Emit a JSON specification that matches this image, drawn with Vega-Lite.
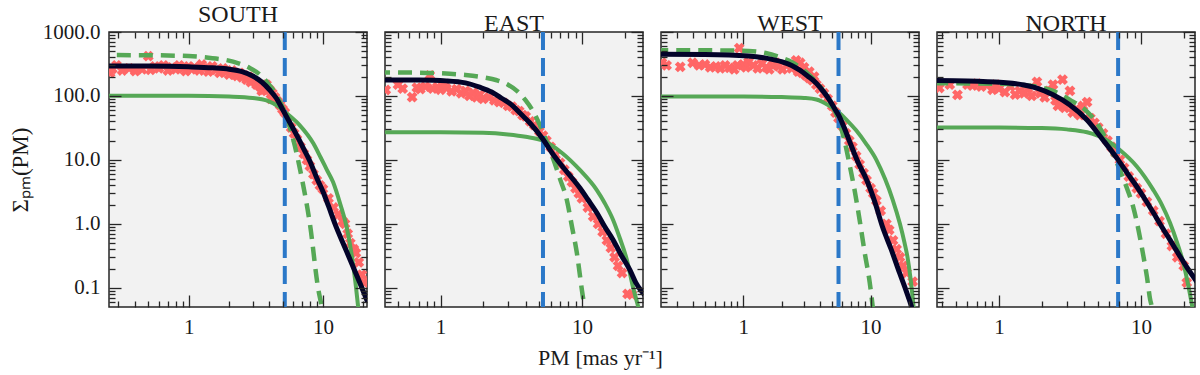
{
  "$schema": "https://vega.github.io/schema/vega-lite/v6.json",
  "padding": {"left": 8, "top": 2, "right": 2, "bottom": 2},
  "spacing": 18,
  "bounds": "flush",
  "datasets": {
    "pts": [
      {"p":"S","x":0.26,"v":230},{"p":"S","x":0.27,"v":265},{"p":"S","x":0.29,"v":300},{"p":"S","x":0.32,"v":250},{"p":"S","x":0.36,"v":270},{"p":"S","x":0.40,"v":245},{"p":"S","x":0.45,"v":260},{"p":"S","x":0.50,"v":420},{"p":"S","x":0.52,"v":255},{"p":"S","x":0.56,"v":290},{"p":"S","x":0.60,"v":270},{"p":"S","x":0.65,"v":300},{"p":"S","x":0.70,"v":250},{"p":"S","x":0.75,"v":280},{"p":"S","x":0.80,"v":260},{"p":"S","x":0.85,"v":300},{"p":"S","x":0.90,"v":270},{"p":"S","x":0.95,"v":245},{"p":"S","x":1.0,"v":290},{"p":"S","x":1.05,"v":260},{"p":"S","x":1.1,"v":280},{"p":"S","x":1.2,"v":250},{"p":"S","x":1.25,"v":310},{"p":"S","x":1.3,"v":270},{"p":"S","x":1.4,"v":240},{"p":"S","x":1.5,"v":290},{"p":"S","x":1.6,"v":255},{"p":"S","x":1.7,"v":230},{"p":"S","x":1.8,"v":270},{"p":"S","x":1.9,"v":240},{"p":"S","x":2.0,"v":215},{"p":"S","x":2.1,"v":250},{"p":"S","x":2.2,"v":215},{"p":"S","x":2.3,"v":205},{"p":"S","x":2.4,"v":230},{"p":"S","x":2.5,"v":195},{"p":"S","x":2.6,"v":210},{"p":"S","x":2.7,"v":180},{"p":"S","x":2.8,"v":200},{"p":"S","x":2.9,"v":165},{"p":"S","x":3.0,"v":175},{"p":"S","x":3.2,"v":150},{"p":"S","x":3.4,"v":140},{"p":"S","x":3.5,"v":120},{"p":"S","x":3.6,"v":125},{"p":"S","x":3.8,"v":150},{"p":"S","x":4.0,"v":125},{"p":"S","x":4.1,"v":90},{"p":"S","x":4.2,"v":110},{"p":"S","x":4.4,"v":95},{"p":"S","x":4.6,"v":82},{"p":"S","x":4.8,"v":72},{"p":"S","x":5.0,"v":62},{"p":"S","x":5.2,"v":55},{"p":"S","x":5.5,"v":40},{"p":"S","x":5.8,"v":32},{"p":"S","x":6.1,"v":26},{"p":"S","x":6.4,"v":21},{"p":"S","x":6.8,"v":16},{"p":"S","x":7.2,"v":12.5},{"p":"S","x":7.6,"v":10},{"p":"S","x":8.0,"v":8},{"p":"S","x":8.5,"v":6},{"p":"S","x":9.0,"v":4.8},{"p":"S","x":9.5,"v":4.0},{"p":"S","x":10,"v":3.5},{"p":"S","x":11,"v":2.5},{"p":"S","x":12,"v":1.8},{"p":"S","x":13,"v":1.4},{"p":"S","x":14,"v":1.1},{"p":"S","x":14.6,"v":1.0},{"p":"S","x":15.3,"v":0.7},{"p":"S","x":16,"v":0.5},{"p":"S","x":17,"v":0.4},{"p":"S","x":17.6,"v":0.35},{"p":"S","x":18.5,"v":0.25},{"p":"S","x":19.5,"v":0.16},{"p":"S","x":20.2,"v":0.12},
      {"p":"E","x":0.41,"v":124},{"p":"E","x":0.5,"v":150},{"p":"E","x":0.54,"v":130},{"p":"E","x":0.63,"v":96},{"p":"E","x":0.68,"v":135},{"p":"E","x":0.72,"v":128},{"p":"E","x":0.78,"v":140},{"p":"E","x":0.84,"v":210},{"p":"E","x":0.88,"v":130},{"p":"E","x":0.95,"v":138},{"p":"E","x":1.0,"v":125},{"p":"E","x":1.05,"v":145},{"p":"E","x":1.1,"v":132},{"p":"E","x":1.2,"v":118},{"p":"E","x":1.3,"v":128},{"p":"E","x":1.4,"v":110},{"p":"E","x":1.5,"v":120},{"p":"E","x":1.6,"v":100},{"p":"E","x":1.7,"v":112},{"p":"E","x":1.8,"v":95},{"p":"E","x":1.9,"v":105},{"p":"E","x":2.0,"v":90},{"p":"E","x":2.2,"v":95},{"p":"E","x":2.4,"v":85},{"p":"E","x":2.6,"v":80},{"p":"E","x":2.8,"v":78},{"p":"E","x":3.0,"v":70},{"p":"E","x":3.2,"v":68},{"p":"E","x":3.4,"v":60},{"p":"E","x":3.6,"v":58},{"p":"E","x":3.8,"v":50},{"p":"E","x":4.0,"v":48},{"p":"E","x":4.3,"v":40},{"p":"E","x":4.6,"v":35},{"p":"E","x":5.0,"v":28},{"p":"E","x":5.3,"v":24},{"p":"E","x":5.6,"v":20},{"p":"E","x":6.0,"v":16},{"p":"E","x":6.5,"v":12},{"p":"E","x":7.0,"v":9},{"p":"E","x":7.5,"v":7},{"p":"E","x":8.0,"v":5.5},{"p":"E","x":8.5,"v":4.5},{"p":"E","x":9.0,"v":3.6},{"p":"E","x":9.5,"v":3.0},{"p":"E","x":10,"v":2.5},{"p":"E","x":11,"v":1.8},{"p":"E","x":12,"v":1.3},{"p":"E","x":13,"v":1.0},{"p":"E","x":14,"v":0.75},{"p":"E","x":15,"v":0.55},{"p":"E","x":16,"v":0.42},{"p":"E","x":17,"v":0.3},{"p":"E","x":18,"v":0.22},{"p":"E","x":19.2,"v":0.17},{"p":"E","x":21,"v":0.08},{"p":"E","x":22.6,"v":0.078},
      {"p":"W","x":0.23,"v":330},{"p":"W","x":0.25,"v":300},{"p":"W","x":0.32,"v":285},{"p":"W","x":0.40,"v":330},{"p":"W","x":0.45,"v":300},{"p":"W","x":0.5,"v":310},{"p":"W","x":0.55,"v":280},{"p":"W","x":0.61,"v":290},{"p":"W","x":0.66,"v":270},{"p":"W","x":0.72,"v":300},{"p":"W","x":0.78,"v":275},{"p":"W","x":0.85,"v":260},{"p":"W","x":0.9,"v":300},{"p":"W","x":0.93,"v":560},{"p":"W","x":1.0,"v":310},{"p":"W","x":1.05,"v":280},{"p":"W","x":1.1,"v":340},{"p":"W","x":1.2,"v":300},{"p":"W","x":1.3,"v":270},{"p":"W","x":1.4,"v":320},{"p":"W","x":1.52,"v":280},{"p":"W","x":1.6,"v":260},{"p":"W","x":1.7,"v":300},{"p":"W","x":1.8,"v":330},{"p":"W","x":1.9,"v":290},{"p":"W","x":2.03,"v":260},{"p":"W","x":2.2,"v":300},{"p":"W","x":2.4,"v":270},{"p":"W","x":2.6,"v":360},{"p":"W","x":2.7,"v":240},{"p":"W","x":2.8,"v":330},{"p":"W","x":2.9,"v":230},{"p":"W","x":3.0,"v":280},{"p":"W","x":3.1,"v":210},{"p":"W","x":3.3,"v":240},{"p":"W","x":3.3,"v":190},{"p":"W","x":3.5,"v":175},{"p":"W","x":3.6,"v":200},{"p":"W","x":3.75,"v":150},{"p":"W","x":4.0,"v":130},{"p":"W","x":4.3,"v":110},{"p":"W","x":4.6,"v":90},{"p":"W","x":5.0,"v":70},{"p":"W","x":5.3,"v":55},{"p":"W","x":5.6,"v":45},{"p":"W","x":6.0,"v":34},{"p":"W","x":6.4,"v":26},{"p":"W","x":6.8,"v":20},{"p":"W","x":7.2,"v":16},{"p":"W","x":7.7,"v":11.5},{"p":"W","x":8.2,"v":8.5},{"p":"W","x":8.8,"v":6.2},{"p":"W","x":9.3,"v":4.8},{"p":"W","x":10,"v":3.6},{"p":"W","x":10.5,"v":3.0},{"p":"W","x":11.1,"v":2.3},{"p":"W","x":12,"v":1.6},{"p":"W","x":13.3,"v":1.0},{"p":"W","x":14,"v":0.8},{"p":"W","x":15,"v":0.55},{"p":"W","x":16,"v":0.4},{"p":"W","x":17,"v":0.3},{"p":"W","x":18,"v":0.22},{"p":"W","x":19.2,"v":0.17},{"p":"W","x":21.4,"v":0.125},
      {"p":"N","x":0.38,"v":133},{"p":"N","x":0.45,"v":150},{"p":"N","x":0.51,"v":104},{"p":"N","x":0.6,"v":150},{"p":"N","x":0.65,"v":145},{"p":"N","x":0.7,"v":155},{"p":"N","x":0.75,"v":140},{"p":"N","x":0.82,"v":148},{"p":"N","x":0.9,"v":125},{"p":"N","x":0.95,"v":150},{"p":"N","x":1.0,"v":130},{"p":"N","x":1.1,"v":115},{"p":"N","x":1.2,"v":140},{"p":"N","x":1.3,"v":105},{"p":"N","x":1.4,"v":120},{"p":"N","x":1.5,"v":110},{"p":"N","x":1.6,"v":130},{"p":"N","x":1.7,"v":100},{"p":"N","x":1.85,"v":166},{"p":"N","x":1.95,"v":110},{"p":"N","x":2.1,"v":95},{"p":"N","x":2.25,"v":120},{"p":"N","x":2.4,"v":150},{"p":"N","x":2.5,"v":85},{"p":"N","x":2.6,"v":70},{"p":"N","x":2.8,"v":180},{"p":"N","x":2.9,"v":65},{"p":"N","x":3.0,"v":75},{"p":"N","x":3.16,"v":120},{"p":"N","x":3.3,"v":55},{"p":"N","x":3.5,"v":62},{"p":"N","x":3.7,"v":50},{"p":"N","x":3.9,"v":70},{"p":"N","x":4.17,"v":80},{"p":"N","x":4.4,"v":45},{"p":"N","x":4.7,"v":38},{"p":"N","x":5.0,"v":32},{"p":"N","x":5.4,"v":26},{"p":"N","x":5.8,"v":20},{"p":"N","x":6.2,"v":16},{"p":"N","x":6.6,"v":13},{"p":"N","x":7.1,"v":10},{"p":"N","x":7.6,"v":7.5},{"p":"N","x":8.2,"v":5.5},{"p":"N","x":8.8,"v":4.5},{"p":"N","x":9.35,"v":3.6},{"p":"N","x":10,"v":3},{"p":"N","x":11,"v":2.2},{"p":"N","x":12.2,"v":1.6},{"p":"N","x":13.5,"v":1.1},{"p":"N","x":15,"v":0.7},{"p":"N","x":16.5,"v":0.45},{"p":"N","x":18,"v":0.3},{"p":"N","x":20,"v":0.22},{"p":"N","x":21,"v":0.12}
    ],
    "curves": [
      {"p":"S","s":"k","x":0.2,"v":295},{"p":"S","s":"k","x":0.5,"v":293},{"p":"S","s":"k","x":1,"v":285},{"p":"S","s":"k","x":1.5,"v":275},{"p":"S","s":"k","x":2,"v":262},{"p":"S","s":"k","x":2.5,"v":240},{"p":"S","s":"k","x":3,"v":205},{"p":"S","s":"k","x":3.5,"v":165},{"p":"S","s":"k","x":4,"v":125},{"p":"S","s":"k","x":4.5,"v":92},{"p":"S","s":"k","x":5,"v":62},{"p":"S","s":"k","x":5.5,"v":43},{"p":"S","s":"k","x":6,"v":31},{"p":"S","s":"k","x":6.7,"v":20},{"p":"S","s":"k","x":7.3,"v":14},{"p":"S","s":"k","x":8,"v":9.5},{"p":"S","s":"k","x":9,"v":5.2},{"p":"S","s":"k","x":10,"v":3.2},{"p":"S","s":"k","x":11,"v":1.9},{"p":"S","s":"k","x":12.3,"v":1.0},{"p":"S","s":"k","x":14,"v":0.52},{"p":"S","s":"k","x":16,"v":0.27},{"p":"S","s":"k","x":18,"v":0.15},{"p":"S","s":"k","x":19.5,"v":0.1},{"p":"S","s":"k","x":21.5,"v":0.06},
      {"p":"S","s":"d","x":0.2,"v":436},{"p":"S","s":"d","x":0.5,"v":433},{"p":"S","s":"d","x":1,"v":420},{"p":"S","s":"d","x":1.5,"v":390},{"p":"S","s":"d","x":2.14,"v":344},{"p":"S","s":"d","x":2.85,"v":274},{"p":"S","s":"d","x":3.4,"v":215},{"p":"S","s":"d","x":3.8,"v":168},{"p":"S","s":"d","x":4.5,"v":104},{"p":"S","s":"d","x":5.4,"v":45},{"p":"S","s":"d","x":6.2,"v":16},{"p":"S","s":"d","x":7.0,"v":4.9},{"p":"S","s":"d","x":8.0,"v":1.0},{"p":"S","s":"d","x":9.2,"v":0.1},{"p":"S","s":"d","x":9.8,"v":0.05},{"p":"S","s":"d","x":10.2,"v":0.03},
      {"p":"S","s":"g","x":0.2,"v":101},{"p":"S","s":"g","x":1,"v":101},{"p":"S","s":"g","x":2,"v":98},{"p":"S","s":"g","x":3,"v":93},{"p":"S","s":"g","x":3.8,"v":85},{"p":"S","s":"g","x":4.78,"v":66},{"p":"S","s":"g","x":5.4,"v":53},{"p":"S","s":"g","x":6.7,"v":35},{"p":"S","s":"g","x":8.5,"v":18},{"p":"S","s":"g","x":9.6,"v":11},{"p":"S","s":"g","x":10.7,"v":7},{"p":"S","s":"g","x":11.9,"v":4.5},{"p":"S","s":"g","x":13.5,"v":2.0},{"p":"S","s":"g","x":15.1,"v":0.85},{"p":"S","s":"g","x":16.3,"v":0.35},{"p":"S","s":"g","x":17.4,"v":0.13},{"p":"S","s":"g","x":18.3,"v":0.05},{"p":"S","s":"g","x":18.8,"v":0.03},
      {"p":"E","s":"k","x":0.35,"v":178},{"p":"E","s":"k","x":0.7,"v":177},{"p":"E","s":"k","x":1.1,"v":172},{"p":"E","s":"k","x":1.5,"v":160},{"p":"E","s":"k","x":1.89,"v":137},{"p":"E","s":"k","x":2.3,"v":115},{"p":"E","s":"k","x":2.7,"v":92},{"p":"E","s":"k","x":3.24,"v":70},{"p":"E","s":"k","x":3.7,"v":52},{"p":"E","s":"k","x":4.27,"v":38},{"p":"E","s":"k","x":5.3,"v":21},{"p":"E","s":"k","x":6.2,"v":12.5},{"p":"E","s":"k","x":7.3,"v":7.8},{"p":"E","s":"k","x":8.5,"v":5.2},{"p":"E","s":"k","x":9.7,"v":3.6},{"p":"E","s":"k","x":11,"v":2.4},{"p":"E","s":"k","x":12.7,"v":1.5},{"p":"E","s":"k","x":14.5,"v":0.9},{"p":"E","s":"k","x":16.6,"v":0.56},{"p":"E","s":"k","x":19,"v":0.32},{"p":"E","s":"k","x":21.8,"v":0.19},{"p":"E","s":"k","x":24,"v":0.12},{"p":"E","s":"k","x":28,"v":0.075},
      {"p":"E","s":"d","x":0.35,"v":233},{"p":"E","s":"d","x":0.7,"v":231},{"p":"E","s":"d","x":1,"v":226},{"p":"E","s":"d","x":1.5,"v":213},{"p":"E","s":"d","x":2,"v":196},{"p":"E","s":"d","x":2.5,"v":176},{"p":"E","s":"d","x":3,"v":150},{"p":"E","s":"d","x":3.5,"v":118},{"p":"E","s":"d","x":4,"v":85},{"p":"E","s":"d","x":4.5,"v":58},{"p":"E","s":"d","x":5.3,"v":27},{"p":"E","s":"d","x":6.2,"v":11},{"p":"E","s":"d","x":7,"v":5},{"p":"E","s":"d","x":7.8,"v":2.4},{"p":"E","s":"d","x":8.5,"v":0.9},{"p":"E","s":"d","x":9.2,"v":0.35},{"p":"E","s":"d","x":10,"v":0.09},{"p":"E","s":"d","x":10.4,"v":0.05},{"p":"E","s":"d","x":10.7,"v":0.03},
      {"p":"E","s":"g","x":0.35,"v":27},{"p":"E","s":"g","x":1,"v":27},{"p":"E","s":"g","x":2,"v":26.5},{"p":"E","s":"g","x":3,"v":25},{"p":"E","s":"g","x":4,"v":23},{"p":"E","s":"g","x":5.3,"v":20},{"p":"E","s":"g","x":7.3,"v":12.6},{"p":"E","s":"g","x":9.7,"v":6.9},{"p":"E","s":"g","x":12.7,"v":3.4},{"p":"E","s":"g","x":14.5,"v":2.1},{"p":"E","s":"g","x":16.6,"v":1.15},{"p":"E","s":"g","x":18.5,"v":0.6},{"p":"E","s":"g","x":20.8,"v":0.27},{"p":"E","s":"g","x":23,"v":0.1},{"p":"E","s":"g","x":25,"v":0.05},{"p":"E","s":"g","x":26,"v":0.035},
      {"p":"W","s":"k","x":0.2,"v":450},{"p":"W","s":"k","x":0.5,"v":445},{"p":"W","s":"k","x":1.1,"v":421},{"p":"W","s":"k","x":1.5,"v":390},{"p":"W","s":"k","x":2.03,"v":340},{"p":"W","s":"k","x":2.4,"v":300},{"p":"W","s":"k","x":2.76,"v":255},{"p":"W","s":"k","x":3.2,"v":205},{"p":"W","s":"k","x":3.75,"v":158},{"p":"W","s":"k","x":4.25,"v":118},{"p":"W","s":"k","x":4.75,"v":87},{"p":"W","s":"k","x":5.2,"v":64},{"p":"W","s":"k","x":5.7,"v":47},{"p":"W","s":"k","x":6.2,"v":32},{"p":"W","s":"k","x":6.8,"v":20},{"p":"W","s":"k","x":8,"v":9},{"p":"W","s":"k","x":9.3,"v":4.9},{"p":"W","s":"k","x":10.8,"v":2.2},{"p":"W","s":"k","x":12.4,"v":0.9},{"p":"W","s":"k","x":14.5,"v":0.4},{"p":"W","s":"k","x":16.9,"v":0.17},{"p":"W","s":"k","x":19,"v":0.09},{"p":"W","s":"k","x":21,"v":0.05},{"p":"W","s":"k","x":22,"v":0.035},
      {"p":"W","s":"d","x":0.2,"v":520},{"p":"W","s":"d","x":0.5,"v":518},{"p":"W","s":"d","x":1.1,"v":505},{"p":"W","s":"d","x":1.5,"v":470},{"p":"W","s":"d","x":2.03,"v":392},{"p":"W","s":"d","x":2.4,"v":340},{"p":"W","s":"d","x":2.76,"v":285},{"p":"W","s":"d","x":3.2,"v":225},{"p":"W","s":"d","x":3.75,"v":165},{"p":"W","s":"d","x":4.25,"v":120},{"p":"W","s":"d","x":4.75,"v":87},{"p":"W","s":"d","x":5.2,"v":60},{"p":"W","s":"d","x":5.7,"v":38},{"p":"W","s":"d","x":6.2,"v":21},{"p":"W","s":"d","x":6.8,"v":8.9},{"p":"W","s":"d","x":7.5,"v":3.3},{"p":"W","s":"d","x":8.2,"v":1.15},{"p":"W","s":"d","x":9.0,"v":0.35},{"p":"W","s":"d","x":9.85,"v":0.12},{"p":"W","s":"d","x":10.4,"v":0.05},{"p":"W","s":"d","x":10.7,"v":0.03},
      {"p":"W","s":"g","x":0.2,"v":98},{"p":"W","s":"g","x":1,"v":98},{"p":"W","s":"g","x":2,"v":96},{"p":"W","s":"g","x":3,"v":93},{"p":"W","s":"g","x":3.75,"v":88},{"p":"W","s":"g","x":4.75,"v":70},{"p":"W","s":"g","x":5.7,"v":54},{"p":"W","s":"g","x":6.5,"v":42},{"p":"W","s":"g","x":7.7,"v":29},{"p":"W","s":"g","x":9.2,"v":18},{"p":"W","s":"g","x":11.1,"v":10},{"p":"W","s":"g","x":13,"v":5},{"p":"W","s":"g","x":14.9,"v":2.4},{"p":"W","s":"g","x":17,"v":1.0},{"p":"W","s":"g","x":18.5,"v":0.5},{"p":"W","s":"g","x":19.5,"v":0.3},{"p":"W","s":"g","x":20.5,"v":0.15},{"p":"W","s":"g","x":21.4,"v":0.07},{"p":"W","s":"g","x":22,"v":0.04},
      {"p":"N","s":"k","x":0.35,"v":174},{"p":"N","s":"k","x":0.6,"v":172},{"p":"N","s":"k","x":1.07,"v":162},{"p":"N","s":"k","x":1.5,"v":148},{"p":"N","s":"k","x":1.85,"v":132},{"p":"N","s":"k","x":2.4,"v":104},{"p":"N","s":"k","x":3.16,"v":72},{"p":"N","s":"k","x":4.17,"v":42},{"p":"N","s":"k","x":5.4,"v":20.5},{"p":"N","s":"k","x":6.9,"v":10},{"p":"N","s":"k","x":8,"v":6.2},{"p":"N","s":"k","x":9.35,"v":3.8},{"p":"N","s":"k","x":10.7,"v":2.4},{"p":"N","s":"k","x":12.2,"v":1.5},{"p":"N","s":"k","x":14,"v":0.9},{"p":"N","s":"k","x":16,"v":0.56},{"p":"N","s":"k","x":18.5,"v":0.33},{"p":"N","s":"k","x":21,"v":0.21},{"p":"N","s":"k","x":25,"v":0.12},
      {"p":"N","s":"d","x":0.35,"v":158},{"p":"N","s":"d","x":0.6,"v":157},{"p":"N","s":"d","x":1,"v":155},{"p":"N","s":"d","x":1.5,"v":148},{"p":"N","s":"d","x":1.85,"v":140},{"p":"N","s":"d","x":2.4,"v":120},{"p":"N","s":"d","x":3.16,"v":87},{"p":"N","s":"d","x":4.17,"v":57},{"p":"N","s":"d","x":4.8,"v":40},{"p":"N","s":"d","x":5.4,"v":26},{"p":"N","s":"d","x":6.2,"v":14},{"p":"N","s":"d","x":7.1,"v":6.9},{"p":"N","s":"d","x":8,"v":3.5},{"p":"N","s":"d","x":8.8,"v":1.86},{"p":"N","s":"d","x":9.6,"v":0.8},{"p":"N","s":"d","x":10.3,"v":0.35},{"p":"N","s":"d","x":11,"v":0.15},{"p":"N","s":"d","x":11.6,"v":0.065},{"p":"N","s":"d","x":11.9,"v":0.05},{"p":"N","s":"d","x":12.1,"v":0.035},
      {"p":"N","s":"g","x":0.35,"v":32},{"p":"N","s":"g","x":1,"v":32},{"p":"N","s":"g","x":2,"v":31.5},{"p":"N","s":"g","x":3,"v":30},{"p":"N","s":"g","x":4.17,"v":27},{"p":"N","s":"g","x":5.4,"v":22},{"p":"N","s":"g","x":7.1,"v":14.3},{"p":"N","s":"g","x":9.35,"v":7.9},{"p":"N","s":"g","x":12.2,"v":3.4},{"p":"N","s":"g","x":14,"v":2},{"p":"N","s":"g","x":16,"v":1.04},{"p":"N","s":"g","x":18,"v":0.5},{"p":"N","s":"g","x":19.8,"v":0.25},{"p":"N","s":"g","x":21.5,"v":0.11},{"p":"N","s":"g","x":23,"v":0.05},{"p":"N","s":"g","x":24,"v":0.03}
    ],
    "vl": [{"p":"S","x":5.2},{"p":"E","x":5.3},{"p":"W","x":5.6},{"p":"N","x":6.9}]
  },
  "hconcat": [
    {
      "width": 258, "height": 275, "title": {"text": "SOUTH"},
      "resolve": {"axis": {"x": "independent", "y": "independent"}},
      "layer": [
        {"data": {"name": "pts"}, "transform": [{"filter": "datum.p == 'S'"}],
         "mark": {"type": "point", "shape": "cross", "angle": 45, "filled": true, "size": 120, "color": "#ff6666", "opacity": 1, "clip": true},
         "encoding": {
           "x": {"field": "x", "type": "quantitative", "scale": {"type": "log", "domain": [0.255, 21.3], "nice": false}, "axis": {"orient": "bottom", "values": [1, 10], "format": ".0f", "ticks": true, "tickColor": "#262626", "tickOpacity": 1, "tickWidth": 1.3, "tickSize": 12, "offset": -12, "labelPadding": 9, "labelFont": "Liberation Serif", "labelFontSize": 21, "labelColor": "#1a1a1a", "labelOverlap": false, "labelFlush": false, "domain": false, "grid": false, "zindex": 1, "title": null}},
           "y": {"field": "v", "type": "quantitative", "scale": {"type": "log", "domain": [0.05, 1000], "nice": false}, "axis": {"orient": "left", "values": [0.1, 1, 10, 100, 1000], "format": ".1f", "ticks": true, "tickColor": "#262626", "tickOpacity": 1, "tickWidth": 1.3, "tickSize": 12, "offset": -12, "labelPadding": 9, "labelFont": "Liberation Serif", "labelFontSize": 21, "labelColor": "#1a1a1a", "labelOverlap": false, "labelFlush": false, "domain": false, "grid": false, "zindex": 1, "title": "Σₚₘ(PM)", "titleFont": "Liberation Serif", "titleFontSize": 23, "titleFontWeight": "normal", "titleColor": "#1a1a1a", "titlePadding": 10}}
         }},
        {"data": {"name": "curves"}, "transform": [{"filter": "datum.p == 'S' && datum.s == 'd'"}],
         "mark": {"type": "line", "color": "#56a856", "strokeWidth": 4.5, "strokeDash": [14, 8], "interpolate": "monotone", "clip": true},
         "encoding": {
           "x": {"field": "x", "type": "quantitative", "scale": {"type": "log", "domain": [0.255, 21.3], "nice": false}, "axis": {"orient": "bottom", "values": [0.3,0.4,0.5,0.6,0.7,0.8,0.9,2,3,4,5,6,7,8,9,20], "ticks": true, "tickColor": "#262626", "tickOpacity": 1, "tickWidth": 1.3, "tickSize": 6, "offset": -6, "labels": false, "domain": false, "grid": false, "zindex": 1, "title": null}},
           "y": {"field": "v", "type": "quantitative", "scale": {"type": "log", "domain": [0.05, 1000], "nice": false}, "axis": {"orient": "left", "values": [0.06,0.07,0.08,0.09,0.2,0.3,0.4,0.5,0.6,0.7,0.8,0.9,2,3,4,5,6,7,8,9,20,30,40,50,60,70,80,90,200,300,400,500,600,700,800,900], "ticks": true, "tickColor": "#262626", "tickOpacity": 1, "tickWidth": 1.3, "tickSize": 6, "offset": -6, "labels": false, "domain": false, "grid": false, "zindex": 1, "title": null}}
         }},
        {"data": {"name": "curves"}, "transform": [{"filter": "datum.p == 'S' && datum.s == 'g'"}],
         "mark": {"type": "line", "color": "#56a856", "strokeWidth": 4, "interpolate": "monotone", "clip": true},
         "encoding": {
           "x": {"field": "x", "type": "quantitative", "scale": {"type": "log", "domain": [0.255, 21.3], "nice": false}, "axis": {"orient": "top", "values": [1, 10], "ticks": true, "tickColor": "#262626", "tickOpacity": 1, "tickWidth": 1.3, "tickSize": 12, "offset": -12, "labels": false, "domain": false, "grid": false, "zindex": 1, "title": null}},
           "y": {"field": "v", "type": "quantitative", "scale": {"type": "log", "domain": [0.05, 1000], "nice": false}, "axis": {"orient": "right", "values": [0.1, 1, 10, 100, 1000], "ticks": true, "tickColor": "#262626", "tickOpacity": 1, "tickWidth": 1.3, "tickSize": 12, "offset": -12, "labels": false, "domain": false, "grid": false, "zindex": 1, "title": null}}
         }},
        {"data": {"name": "vl"}, "transform": [{"filter": "datum.p == 'S'"}],
         "mark": {"type": "rule", "color": "#2b78c8", "strokeWidth": 4, "strokeDash": [18, 8]},
         "encoding": {
           "x": {"field": "x", "type": "quantitative", "scale": {"type": "log", "domain": [0.255, 21.3], "nice": false}, "axis": {"orient": "top", "values": [0.3,0.4,0.5,0.6,0.7,0.8,0.9,2,3,4,5,6,7,8,9,20], "ticks": true, "tickColor": "#262626", "tickOpacity": 1, "tickWidth": 1.3, "tickSize": 6, "offset": -6, "labels": false, "domain": false, "grid": false, "zindex": 1, "title": null}}
         }},
        {"data": {"name": "curves"}, "transform": [{"filter": "datum.p == 'S' && datum.s == 'k'"}],
         "mark": {"type": "line", "color": "#03032a", "strokeWidth": 5, "interpolate": "monotone", "clip": true},
         "encoding": {
           "x": {"field": "x", "type": "quantitative", "scale": {"type": "log", "domain": [0.255, 21.3], "nice": false}, "axis": null},
           "y": {"field": "v", "type": "quantitative", "scale": {"type": "log", "domain": [0.05, 1000], "nice": false}, "axis": {"orient": "right", "values": [0.06,0.07,0.08,0.09,0.2,0.3,0.4,0.5,0.6,0.7,0.8,0.9,2,3,4,5,6,7,8,9,20,30,40,50,60,70,80,90,200,300,400,500,600,700,800,900], "ticks": true, "tickColor": "#262626", "tickOpacity": 1, "tickWidth": 1.3, "tickSize": 6, "offset": -6, "labels": false, "domain": false, "grid": false, "zindex": 1, "title": null}}
         }}
      ]
    },
    {
      "width": 258, "height": 275, "title": {"text": "EAST"},
      "resolve": {"axis": {"x": "independent", "y": "independent"}},
      "layer": [
        {"data": {"name": "pts"}, "transform": [{"filter": "datum.p == 'E'"}],
         "mark": {"type": "point", "shape": "cross", "angle": 45, "filled": true, "size": 120, "color": "#ff6666", "opacity": 1, "clip": true},
         "encoding": {
           "x": {"field": "x", "type": "quantitative", "scale": {"type": "log", "domain": [0.405, 27], "nice": false}, "axis": {"orient": "bottom", "values": [1, 10], "format": ".0f", "ticks": true, "tickColor": "#262626", "tickOpacity": 1, "tickWidth": 1.3, "tickSize": 12, "offset": -12, "labelPadding": 9, "labelFont": "Liberation Serif", "labelFontSize": 21, "labelColor": "#1a1a1a", "labelOverlap": false, "labelFlush": false, "domain": false, "grid": false, "zindex": 1, "title": "PM [mas yr⁻¹]", "titleX": 215, "titleAlign": "center", "titlePadding": 10, "titleFont": "Liberation Serif", "titleFontSize": 22, "titleFontWeight": "normal", "titleColor": "#1a1a1a"}},
           "y": {"field": "v", "type": "quantitative", "scale": {"type": "log", "domain": [0.05, 1000], "nice": false}, "axis": {"orient": "left", "values": [0.1, 1, 10, 100, 1000], "ticks": true, "tickColor": "#262626", "tickOpacity": 1, "tickWidth": 1.3, "tickSize": 12, "offset": -12, "labels": false, "domain": false, "grid": false, "zindex": 1, "title": null}}
         }},
        {"data": {"name": "curves"}, "transform": [{"filter": "datum.p == 'E' && datum.s == 'd'"}],
         "mark": {"type": "line", "color": "#56a856", "strokeWidth": 4.5, "strokeDash": [14, 8], "interpolate": "monotone", "clip": true},
         "encoding": {
           "x": {"field": "x", "type": "quantitative", "scale": {"type": "log", "domain": [0.405, 27], "nice": false}, "axis": {"orient": "bottom", "values": [0.5,0.6,0.7,0.8,0.9,2,3,4,5,6,7,8,9,20], "ticks": true, "tickColor": "#262626", "tickOpacity": 1, "tickWidth": 1.3, "tickSize": 6, "offset": -6, "labels": false, "domain": false, "grid": false, "zindex": 1, "title": null}},
           "y": {"field": "v", "type": "quantitative", "scale": {"type": "log", "domain": [0.05, 1000], "nice": false}, "axis": {"orient": "left", "values": [0.06,0.07,0.08,0.09,0.2,0.3,0.4,0.5,0.6,0.7,0.8,0.9,2,3,4,5,6,7,8,9,20,30,40,50,60,70,80,90,200,300,400,500,600,700,800,900], "ticks": true, "tickColor": "#262626", "tickOpacity": 1, "tickWidth": 1.3, "tickSize": 6, "offset": -6, "labels": false, "domain": false, "grid": false, "zindex": 1, "title": null}}
         }},
        {"data": {"name": "curves"}, "transform": [{"filter": "datum.p == 'E' && datum.s == 'g'"}],
         "mark": {"type": "line", "color": "#56a856", "strokeWidth": 4, "interpolate": "monotone", "clip": true},
         "encoding": {
           "x": {"field": "x", "type": "quantitative", "scale": {"type": "log", "domain": [0.405, 27], "nice": false}, "axis": {"orient": "top", "values": [1, 10], "ticks": true, "tickColor": "#262626", "tickOpacity": 1, "tickWidth": 1.3, "tickSize": 12, "offset": -12, "labels": false, "domain": false, "grid": false, "zindex": 1, "title": null}},
           "y": {"field": "v", "type": "quantitative", "scale": {"type": "log", "domain": [0.05, 1000], "nice": false}, "axis": {"orient": "right", "values": [0.1, 1, 10, 100, 1000], "ticks": true, "tickColor": "#262626", "tickOpacity": 1, "tickWidth": 1.3, "tickSize": 12, "offset": -12, "labels": false, "domain": false, "grid": false, "zindex": 1, "title": null}}
         }},
        {"data": {"name": "vl"}, "transform": [{"filter": "datum.p == 'E'"}],
         "mark": {"type": "rule", "color": "#2b78c8", "strokeWidth": 4, "strokeDash": [18, 8]},
         "encoding": {
           "x": {"field": "x", "type": "quantitative", "scale": {"type": "log", "domain": [0.405, 27], "nice": false}, "axis": {"orient": "top", "values": [0.5,0.6,0.7,0.8,0.9,2,3,4,5,6,7,8,9,20], "ticks": true, "tickColor": "#262626", "tickOpacity": 1, "tickWidth": 1.3, "tickSize": 6, "offset": -6, "labels": false, "domain": false, "grid": false, "zindex": 1, "title": null}}
         }},
        {"data": {"name": "curves"}, "transform": [{"filter": "datum.p == 'E' && datum.s == 'k'"}],
         "mark": {"type": "line", "color": "#03032a", "strokeWidth": 5, "interpolate": "monotone", "clip": true},
         "encoding": {
           "x": {"field": "x", "type": "quantitative", "scale": {"type": "log", "domain": [0.405, 27], "nice": false}, "axis": null},
           "y": {"field": "v", "type": "quantitative", "scale": {"type": "log", "domain": [0.05, 1000], "nice": false}, "axis": {"orient": "right", "values": [0.06,0.07,0.08,0.09,0.2,0.3,0.4,0.5,0.6,0.7,0.8,0.9,2,3,4,5,6,7,8,9,20,30,40,50,60,70,80,90,200,300,400,500,600,700,800,900], "ticks": true, "tickColor": "#262626", "tickOpacity": 1, "tickWidth": 1.3, "tickSize": 6, "offset": -6, "labels": false, "domain": false, "grid": false, "zindex": 1, "title": null}}
         }}
      ]
    },
    {
      "width": 258, "height": 275, "title": {"text": "WEST"},
      "resolve": {"axis": {"x": "independent", "y": "independent"}},
      "layer": [
        {"data": {"name": "pts"}, "transform": [{"filter": "datum.p == 'W'"}],
         "mark": {"type": "point", "shape": "cross", "angle": 45, "filled": true, "size": 120, "color": "#ff6666", "opacity": 1, "clip": true},
         "encoding": {
           "x": {"field": "x", "type": "quantitative", "scale": {"type": "log", "domain": [0.226, 24], "nice": false}, "axis": {"orient": "bottom", "values": [1, 10], "format": ".0f", "ticks": true, "tickColor": "#262626", "tickOpacity": 1, "tickWidth": 1.3, "tickSize": 12, "offset": -12, "labelPadding": 9, "labelFont": "Liberation Serif", "labelFontSize": 21, "labelColor": "#1a1a1a", "labelOverlap": false, "labelFlush": false, "domain": false, "grid": false, "zindex": 1, "title": null}},
           "y": {"field": "v", "type": "quantitative", "scale": {"type": "log", "domain": [0.05, 1000], "nice": false}, "axis": {"orient": "left", "values": [0.1, 1, 10, 100, 1000], "ticks": true, "tickColor": "#262626", "tickOpacity": 1, "tickWidth": 1.3, "tickSize": 12, "offset": -12, "labels": false, "domain": false, "grid": false, "zindex": 1, "title": null}}
         }},
        {"data": {"name": "curves"}, "transform": [{"filter": "datum.p == 'W' && datum.s == 'd'"}],
         "mark": {"type": "line", "color": "#56a856", "strokeWidth": 4.5, "strokeDash": [14, 8], "interpolate": "monotone", "clip": true},
         "encoding": {
           "x": {"field": "x", "type": "quantitative", "scale": {"type": "log", "domain": [0.226, 24], "nice": false}, "axis": {"orient": "bottom", "values": [0.3,0.4,0.5,0.6,0.7,0.8,0.9,2,3,4,5,6,7,8,9,20], "ticks": true, "tickColor": "#262626", "tickOpacity": 1, "tickWidth": 1.3, "tickSize": 6, "offset": -6, "labels": false, "domain": false, "grid": false, "zindex": 1, "title": null}},
           "y": {"field": "v", "type": "quantitative", "scale": {"type": "log", "domain": [0.05, 1000], "nice": false}, "axis": {"orient": "left", "values": [0.06,0.07,0.08,0.09,0.2,0.3,0.4,0.5,0.6,0.7,0.8,0.9,2,3,4,5,6,7,8,9,20,30,40,50,60,70,80,90,200,300,400,500,600,700,800,900], "ticks": true, "tickColor": "#262626", "tickOpacity": 1, "tickWidth": 1.3, "tickSize": 6, "offset": -6, "labels": false, "domain": false, "grid": false, "zindex": 1, "title": null}}
         }},
        {"data": {"name": "curves"}, "transform": [{"filter": "datum.p == 'W' && datum.s == 'g'"}],
         "mark": {"type": "line", "color": "#56a856", "strokeWidth": 4, "interpolate": "monotone", "clip": true},
         "encoding": {
           "x": {"field": "x", "type": "quantitative", "scale": {"type": "log", "domain": [0.226, 24], "nice": false}, "axis": {"orient": "top", "values": [1, 10], "ticks": true, "tickColor": "#262626", "tickOpacity": 1, "tickWidth": 1.3, "tickSize": 12, "offset": -12, "labels": false, "domain": false, "grid": false, "zindex": 1, "title": null}},
           "y": {"field": "v", "type": "quantitative", "scale": {"type": "log", "domain": [0.05, 1000], "nice": false}, "axis": {"orient": "right", "values": [0.1, 1, 10, 100, 1000], "ticks": true, "tickColor": "#262626", "tickOpacity": 1, "tickWidth": 1.3, "tickSize": 12, "offset": -12, "labels": false, "domain": false, "grid": false, "zindex": 1, "title": null}}
         }},
        {"data": {"name": "vl"}, "transform": [{"filter": "datum.p == 'W'"}],
         "mark": {"type": "rule", "color": "#2b78c8", "strokeWidth": 4, "strokeDash": [18, 8]},
         "encoding": {
           "x": {"field": "x", "type": "quantitative", "scale": {"type": "log", "domain": [0.226, 24], "nice": false}, "axis": {"orient": "top", "values": [0.3,0.4,0.5,0.6,0.7,0.8,0.9,2,3,4,5,6,7,8,9,20], "ticks": true, "tickColor": "#262626", "tickOpacity": 1, "tickWidth": 1.3, "tickSize": 6, "offset": -6, "labels": false, "domain": false, "grid": false, "zindex": 1, "title": null}}
         }},
        {"data": {"name": "curves"}, "transform": [{"filter": "datum.p == 'W' && datum.s == 'k'"}],
         "mark": {"type": "line", "color": "#03032a", "strokeWidth": 5, "interpolate": "monotone", "clip": true},
         "encoding": {
           "x": {"field": "x", "type": "quantitative", "scale": {"type": "log", "domain": [0.226, 24], "nice": false}, "axis": null},
           "y": {"field": "v", "type": "quantitative", "scale": {"type": "log", "domain": [0.05, 1000], "nice": false}, "axis": {"orient": "right", "values": [0.06,0.07,0.08,0.09,0.2,0.3,0.4,0.5,0.6,0.7,0.8,0.9,2,3,4,5,6,7,8,9,20,30,40,50,60,70,80,90,200,300,400,500,600,700,800,900], "ticks": true, "tickColor": "#262626", "tickOpacity": 1, "tickWidth": 1.3, "tickSize": 6, "offset": -6, "labels": false, "domain": false, "grid": false, "zindex": 1, "title": null}}
         }}
      ]
    },
    {
      "width": 258, "height": 275, "title": {"text": "NORTH"},
      "resolve": {"axis": {"x": "independent", "y": "independent"}},
      "layer": [
        {"data": {"name": "pts"}, "transform": [{"filter": "datum.p == 'N'"}],
         "mark": {"type": "point", "shape": "cross", "angle": 45, "filled": true, "size": 120, "color": "#ff6666", "opacity": 1, "clip": true},
         "encoding": {
           "x": {"field": "x", "type": "quantitative", "scale": {"type": "log", "domain": [0.366, 24], "nice": false}, "axis": {"orient": "bottom", "values": [1, 10], "format": ".0f", "ticks": true, "tickColor": "#262626", "tickOpacity": 1, "tickWidth": 1.3, "tickSize": 12, "offset": -12, "labelPadding": 9, "labelFont": "Liberation Serif", "labelFontSize": 21, "labelColor": "#1a1a1a", "labelOverlap": false, "labelFlush": false, "domain": false, "grid": false, "zindex": 1, "title": null}},
           "y": {"field": "v", "type": "quantitative", "scale": {"type": "log", "domain": [0.05, 1000], "nice": false}, "axis": {"orient": "left", "values": [0.1, 1, 10, 100, 1000], "ticks": true, "tickColor": "#262626", "tickOpacity": 1, "tickWidth": 1.3, "tickSize": 12, "offset": -12, "labels": false, "domain": false, "grid": false, "zindex": 1, "title": null}}
         }},
        {"data": {"name": "curves"}, "transform": [{"filter": "datum.p == 'N' && datum.s == 'd'"}],
         "mark": {"type": "line", "color": "#56a856", "strokeWidth": 4.5, "strokeDash": [14, 8], "interpolate": "monotone", "clip": true},
         "encoding": {
           "x": {"field": "x", "type": "quantitative", "scale": {"type": "log", "domain": [0.366, 24], "nice": false}, "axis": {"orient": "bottom", "values": [0.4,0.5,0.6,0.7,0.8,0.9,2,3,4,5,6,7,8,9,20], "ticks": true, "tickColor": "#262626", "tickOpacity": 1, "tickWidth": 1.3, "tickSize": 6, "offset": -6, "labels": false, "domain": false, "grid": false, "zindex": 1, "title": null}},
           "y": {"field": "v", "type": "quantitative", "scale": {"type": "log", "domain": [0.05, 1000], "nice": false}, "axis": {"orient": "left", "values": [0.06,0.07,0.08,0.09,0.2,0.3,0.4,0.5,0.6,0.7,0.8,0.9,2,3,4,5,6,7,8,9,20,30,40,50,60,70,80,90,200,300,400,500,600,700,800,900], "ticks": true, "tickColor": "#262626", "tickOpacity": 1, "tickWidth": 1.3, "tickSize": 6, "offset": -6, "labels": false, "domain": false, "grid": false, "zindex": 1, "title": null}}
         }},
        {"data": {"name": "curves"}, "transform": [{"filter": "datum.p == 'N' && datum.s == 'g'"}],
         "mark": {"type": "line", "color": "#56a856", "strokeWidth": 4, "interpolate": "monotone", "clip": true},
         "encoding": {
           "x": {"field": "x", "type": "quantitative", "scale": {"type": "log", "domain": [0.366, 24], "nice": false}, "axis": {"orient": "top", "values": [1, 10], "ticks": true, "tickColor": "#262626", "tickOpacity": 1, "tickWidth": 1.3, "tickSize": 12, "offset": -12, "labels": false, "domain": false, "grid": false, "zindex": 1, "title": null}},
           "y": {"field": "v", "type": "quantitative", "scale": {"type": "log", "domain": [0.05, 1000], "nice": false}, "axis": {"orient": "right", "values": [0.1, 1, 10, 100, 1000], "ticks": true, "tickColor": "#262626", "tickOpacity": 1, "tickWidth": 1.3, "tickSize": 12, "offset": -12, "labels": false, "domain": false, "grid": false, "zindex": 1, "title": null}}
         }},
        {"data": {"name": "vl"}, "transform": [{"filter": "datum.p == 'N'"}],
         "mark": {"type": "rule", "color": "#2b78c8", "strokeWidth": 4, "strokeDash": [18, 8]},
         "encoding": {
           "x": {"field": "x", "type": "quantitative", "scale": {"type": "log", "domain": [0.366, 24], "nice": false}, "axis": {"orient": "top", "values": [0.4,0.5,0.6,0.7,0.8,0.9,2,3,4,5,6,7,8,9,20], "ticks": true, "tickColor": "#262626", "tickOpacity": 1, "tickWidth": 1.3, "tickSize": 6, "offset": -6, "labels": false, "domain": false, "grid": false, "zindex": 1, "title": null}}
         }},
        {"data": {"name": "curves"}, "transform": [{"filter": "datum.p == 'N' && datum.s == 'k'"}],
         "mark": {"type": "line", "color": "#03032a", "strokeWidth": 5, "interpolate": "monotone", "clip": true},
         "encoding": {
           "x": {"field": "x", "type": "quantitative", "scale": {"type": "log", "domain": [0.366, 24], "nice": false}, "axis": null},
           "y": {"field": "v", "type": "quantitative", "scale": {"type": "log", "domain": [0.05, 1000], "nice": false}, "axis": {"orient": "right", "values": [0.06,0.07,0.08,0.09,0.2,0.3,0.4,0.5,0.6,0.7,0.8,0.9,2,3,4,5,6,7,8,9,20,30,40,50,60,70,80,90,200,300,400,500,600,700,800,900], "ticks": true, "tickColor": "#262626", "tickOpacity": 1, "tickWidth": 1.3, "tickSize": 6, "offset": -6, "labels": false, "domain": false, "grid": false, "zindex": 1, "title": null}}
         }}
      ]
    }
  ],
  "config": {
    "font": "Liberation Serif",
    "view": {"fill": "#f2f2f2", "stroke": "#262626", "strokeWidth": 1.5},
    "axis": {"domain": false, "grid": false, "labelFont": "Liberation Serif", "titleFont": "Liberation Serif"},
    "title": {"font": "Liberation Serif", "fontSize": 24, "fontWeight": "normal", "color": "#1a1a1a", "anchor": "middle", "offset": -6}
  }
}
